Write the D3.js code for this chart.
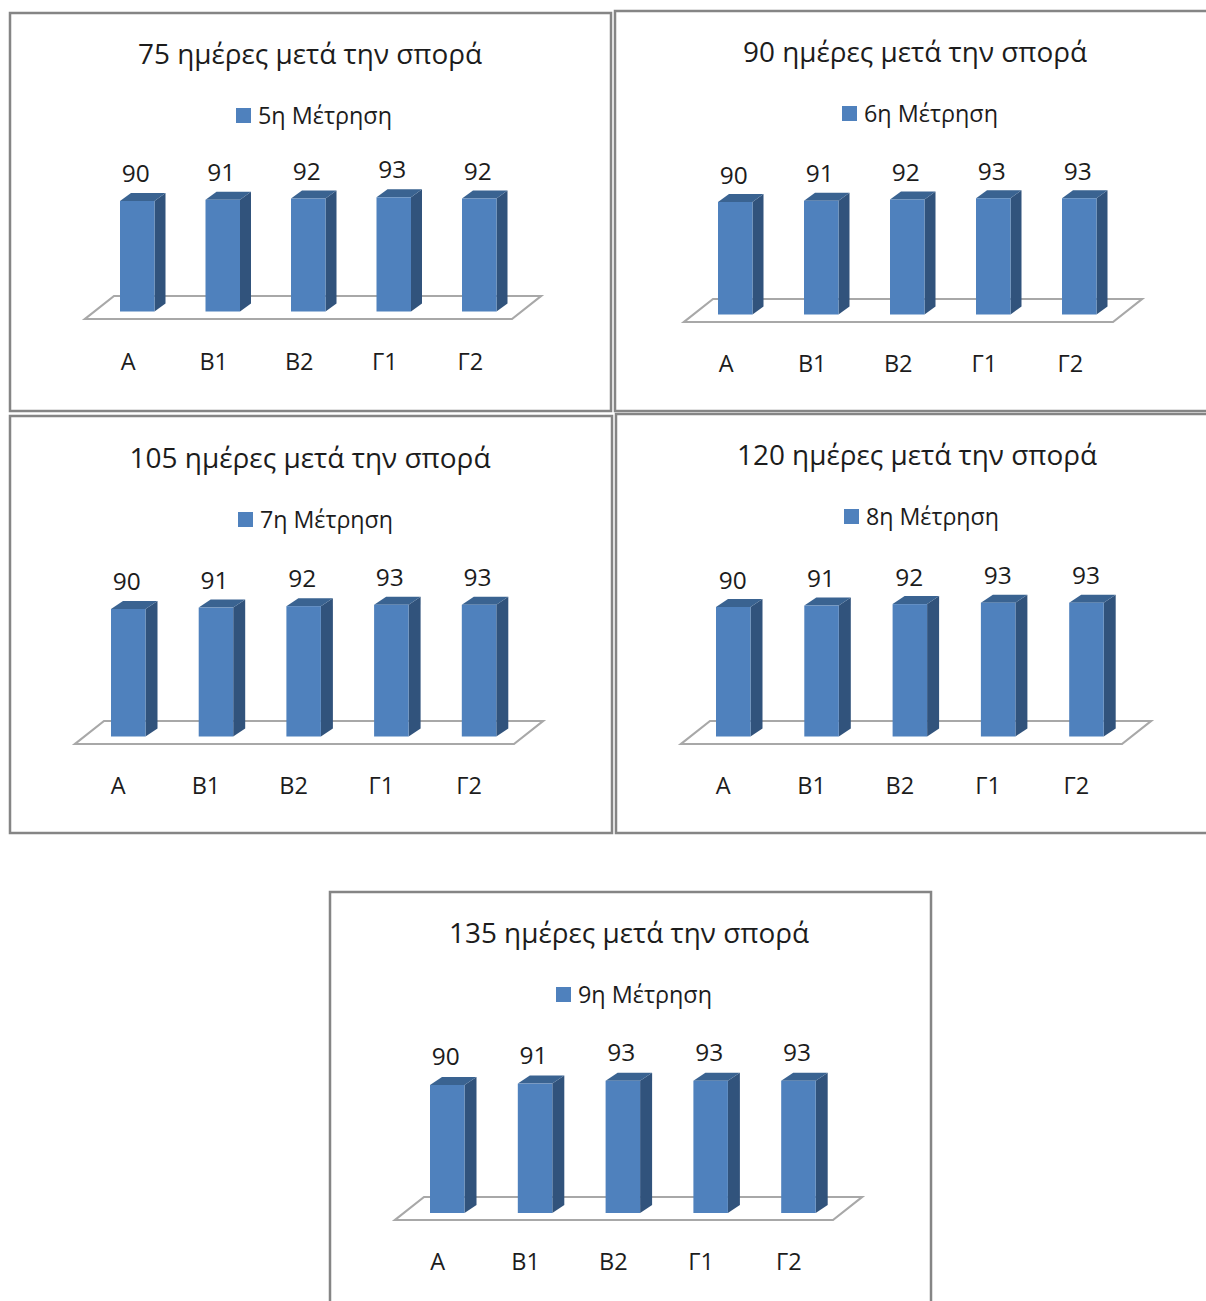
<!DOCTYPE html>
<html lang="el">
<head>
<meta charset="utf-8">
<title>Μετρήσεις μετά την σπορά</title>
<script src="https://cdn.jsdelivr.net/npm/d3@7"></script>
<style>
  html, body { margin: 0; padding: 0; background: #fff; }
  svg { display: block; }
  text { font-family: "Open Sans", "Noto Sans", sans-serif; fill: #1c1c1c; }
</style>
</head>
<body>
<div id="chart"></div>
<script>
// Treatments shown on every panel
const categories = ["Α", "Β1", "Β2", "Γ1", "Γ2"];

// Panel captions and legend entries
const titles = [
  "75 ημέρες μετά την σπορά",
  "90 ημέρες μετά την σπορά",
  "105 ημέρες μετά την σπορά",
  "120 ημέρες μετά την σπορά",
  "135 ημέρες μετά την σπορά"
];
const seriesNames = ["5η Μέτρηση", "6η Μέτρηση", "7η Μέτρηση", "8η Μέτρηση", "9η Μέτρηση"];

// Measurements per panel
const values5 = [90, 91, 92, 93, 92];
const values6 = [90, 91, 92, 93, 93];
const values7 = [90, 91, 92, 93, 93];
const values8 = [90, 91, 92, 93, 93];
const values9 = [90, 91, 93, 93, 93];
const panelValues = [values5, values6, values7, values8, values9];

// Page geometry of each panel, kept apart from the data
const panelLayouts = [
  { frame: [10, 13, 601, 398], titleX: 310, titleY: 63.5, titleW: 344, legX: 236, legY: 108, legW: 134,
    barX: 120, step: 85.5, barW: 34.5, base: 311.5, top90: 201, depX: 11, depY: 8,
    floor: [85, 512, 319, 296, 29], valY: 182, valDx: -1.5, catY: 370, catDx: -9 },
  { frame: [615, 11, 640, 400], titleX: 915, titleY: 61.5, titleW: 344, legX: 842, legY: 106, legW: 134,
    barX: 718, step: 86, barW: 34.5, base: 314.5, top90: 202, depX: 11, depY: 8,
    floor: [684, 1113, 322, 299, 29], valY: 183.5, valDx: -1.5, catY: 372, catDx: -9 },
  { frame: [10, 416, 602, 417], titleX: 310, titleY: 467.5, titleW: 361, legX: 238, legY: 512, legW: 133,
    barX: 111, step: 87.7, barW: 34.5, base: 736.5, top90: 609, depX: 12, depY: 8,
    floor: [75, 514, 744, 721, 29], valY: 590, valDx: -1.5, catY: 794, catDx: -10 },
  { frame: [616, 414, 640, 419], titleX: 917, titleY: 465, titleW: 360, legX: 844, legY: 509, legW: 133,
    barX: 716, step: 88.3, barW: 34.5, base: 736.5, top90: 607, depX: 12, depY: 8,
    floor: [681, 1122, 744, 721, 29], valY: 588.5, valDx: -0.5, catY: 794, catDx: -10 },
  { frame: [330, 892, 601, 440], titleX: 629, titleY: 942.5, titleW: 360, legX: 556, legY: 987, legW: 134,
    barX: 430, step: 87.8, barW: 34.5, base: 1213, top90: 1085, depX: 12, depY: 8,
    floor: [395, 833, 1220, 1197, 29], valY: 1065, valDx: -1.5, catY: 1270, catDx: -9.5 }
];

const colors = { front: "#4f81bd", side: "#31537c", top: "#3a6391",
                 floor: "#a8a8a8", frame: "#858585" };

const svg = d3.select("#chart").append("svg")
  .attr("width", 1206)
  .attr("height", 1301)
  .attr("viewBox", "0 0 1206 1301");

const pathOf = pts => "M" + pts.map(p => p.join(",")).join("L") + "Z";

panelLayouts.forEach((layout, i) => {
  const values = panelValues[i];
  const g = svg.append("g").attr("class", "panel");

  // Outer frame
  const [fx, fy, fw, fh] = layout.frame;
  g.append("rect")
    .attr("x", fx).attr("y", fy).attr("width", fw).attr("height", fh)
    .attr("fill", "#fff").attr("stroke", colors.frame).attr("stroke-width", 2.5);

  // Caption
  g.append("text")
    .attr("x", layout.titleX).attr("y", layout.titleY)
    .attr("text-anchor", "middle")
    .attr("font-size", 28)
    .attr("textLength", layout.titleW)
    .attr("lengthAdjust", "spacingAndGlyphs")
    .text(titles[i]);

  // Legend
  g.append("rect")
    .attr("x", layout.legX).attr("y", layout.legY)
    .attr("width", 15).attr("height", 15)
    .attr("fill", colors.front);
  g.append("text")
    .attr("x", layout.legX + 22).attr("y", layout.legY + 15.5)
    .attr("font-size", 24)
    .attr("textLength", layout.legW)
    .attr("lengthAdjust", "spacingAndGlyphs")
    .text(seriesNames[i]);

  // Scales: bars start from zero, the visible range tops out at 100
  const x = d3.scaleBand()
    .domain(categories)
    .range([layout.barX, layout.barX + layout.step * (categories.length - 1) + layout.barW])
    .paddingInner(1 - layout.barW / layout.step)
    .paddingOuter(0);
  const perUnit = (layout.base - layout.top90) / 90;
  const y = d3.scaleLinear()
    .domain([0, 100])
    .range([layout.base, layout.base - perUnit * 100]);

  // Floor of the 3D plot
  const [fl, fr, fFront, fBack, fShift] = layout.floor;
  g.append("path")
    .attr("d", pathOf([[fl, fFront], [fr, fFront], [fr + fShift, fBack], [fl + fShift, fBack]]))
    .attr("fill", "#fff")
    .attr("stroke", colors.floor)
    .attr("stroke-width", 2.2);

  // Bars: side and top faces are offset by the depth vector
  const bars = g.selectAll("g.bar")
    .data(categories.map((c, k) => ({ c, v: values[k] })))
    .join("g")
    .attr("class", "bar");

  bars.append("path")
    .attr("fill", colors.side)
    .attr("d", d => {
      const r = x(d.c) + x.bandwidth();
      return pathOf([[r, y(d.v)], [r + layout.depX, y(d.v) - layout.depY],
                     [r + layout.depX, y(0) - layout.depY], [r, y(0)]]);
    });
  bars.append("path")
    .attr("fill", colors.top)
    .attr("d", d => {
      const l = x(d.c), r = l + x.bandwidth();
      return pathOf([[l, y(d.v)], [r, y(d.v)],
                     [r + layout.depX, y(d.v) - layout.depY], [l + layout.depX, y(d.v) - layout.depY]]);
    });
  bars.append("rect")
    .attr("x", d => x(d.c))
    .attr("y", d => y(d.v))
    .attr("width", x.bandwidth())
    .attr("height", d => y(0) - y(d.v))
    .attr("fill", colors.front);

  // Value labels follow the bar heights
  const labelLift = y(90) - layout.valY;
  bars.append("text")
    .attr("x", d => x(d.c) + x.bandwidth() / 2 + layout.valDx)
    .attr("y", d => y(d.v) - labelLift)
    .attr("text-anchor", "middle")
    .attr("font-size", 24)
    .attr("textLength", 28)
    .attr("lengthAdjust", "spacingAndGlyphs")
    .text(d => d.v);

  // Category axis, shifted left to sit under the projected floor
  const axis = g.append("g")
    .attr("transform", `translate(${layout.catDx},${layout.catY})`)
    .call(d3.axisBottom(x).tickSize(0).tickPadding(0));
  axis.select(".domain").remove();
  axis.selectAll("text")
    .attr("y", 0).attr("dy", 0)
    .attr("font-size", 23.5)
    .attr("font-family", '"Open Sans", "Noto Sans", sans-serif')
    .attr("fill", "#1c1c1c");
});
</script>
</body>
</html>
